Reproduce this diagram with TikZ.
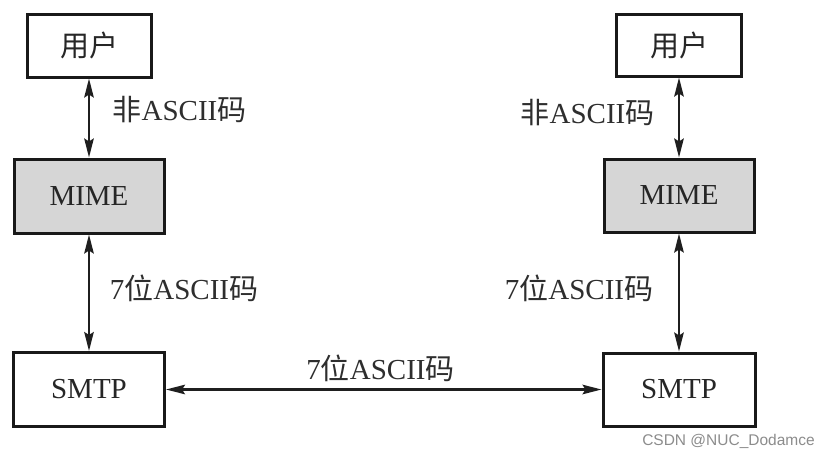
\documentclass[tikz,border=0pt]{standalone}
\usepackage{fontspec}
\setmainfont{Liberation Serif}
\newfontfamily\cjk{Noto Sans CJK SC}
\newfontfamily\wmfont{Liberation Sans}
\usetikzlibrary{arrows.meta}
\begin{document}
\begin{tikzpicture}[x=1pt,y=-1pt,
  box/.style={draw=black!90, line width=3pt, inner sep=0pt, font=\fontsize{29}{30}\selectfont, text=black!85},
  greybox/.style={box, fill=black!16},
  lbl/.style={inner sep=0pt, font=\fontsize{29}{30}\selectfont, text=black!82},
  tip/.style={Stealth[length=19pt,width=9.5pt,inset=3pt]},
  link/.style={line width=2.2pt, draw=black!88, {Stealth[length=19pt,width=9.5pt,inset=3pt]}-{Stealth[length=19pt,width=9.5pt,inset=3pt]}}]
\useasboundingbox (0,0) rectangle (830,458);
\fill[white] (0,0) rectangle (830,458);
% left column
\node[box, minimum width=124pt, minimum height=63pt] (ul) at (89,45.5) {\cjk 用户};
\node[greybox, minimum width=150pt, minimum height=74pt] (ml) at (89,196) {MIME};
\node[box, minimum width=151pt, minimum height=74pt] (sl) at (89,389.5) {SMTP};
% right column
\node[box, minimum width=125pt, minimum height=62pt] (ur) at (679,45) {\cjk 用户};
\node[greybox, minimum width=150pt, minimum height=73pt] (mr) at (679,195.5) {MIME};
\node[box, minimum width=152pt, minimum height=73pt] (sr) at (679,389.5) {SMTP};
% connectors
\draw[link] (ul.south) -- (ml.north);
\draw[link] (ml.south) -- (sl.north);
\draw[link] (ur.south) -- (mr.north);
\draw[link] (mr.south) -- (sr.north);
\draw[link] (sl.east) -- (sr.west);
% labels
\node[lbl] (l1) at (179.5,110) {{\cjk 非}ASCII{\cjk 码}};
\node[lbl] (l2) at (184,288) {7{\cjk 位}ASCII{\cjk 码}};
\node[lbl] (r1) at (587.5,113) {{\cjk 非}ASCII{\cjk 码}};
\node[lbl] (r2) at (579,288) {7{\cjk 位}ASCII{\cjk 码}};
\node[lbl] (m1) at (380.5,368) {7{\cjk 位}ASCII{\cjk 码}};
% watermark
\node[inner sep=0pt, text=black!45, font=\wmfont\fontsize{15.5}{16}\selectfont] (wm) at (728.5,441) {CSDN @NUC\_Dodamce};
\end{tikzpicture}
\end{document}
